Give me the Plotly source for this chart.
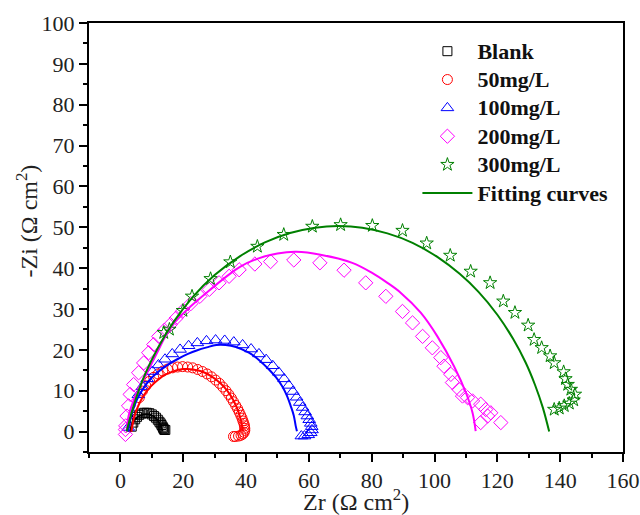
import plotly.graph_objects as go

# ---------------- data ----------------
blank_x = [3.6, 4.1, 4.7, 5.3, 6.0, 6.8, 7.6, 8.4, 9.2, 10.0, 10.7, 11.3, 11.9, 12.4, 12.8, 13.1, 13.4, 13.6, 13.8, 14.0, 14.3]
blank_y = [1.2, 2.2, 3.0, 3.6, 4.1, 4.4, 4.6, 4.6, 4.5, 4.2, 3.8, 3.4, 2.9, 2.4, 2.0, 1.6, 1.2, 0.9, 0.6, 0.4, 0.4]

c50_x = [6.0, 7.0, 8.1, 9.3, 10.6, 12.0, 13.5, 15.0, 16.6, 18.2, 19.8, 21.4, 23.0, 24.6, 26.1, 27.6, 29.0,
         30.3, 31.5, 32.6, 33.6, 34.5, 35.3, 36.0, 36.7, 37.3, 37.8, 38.3, 38.7, 39.0, 39.3, 39.5, 39.6, 39.6, 39.4,
         39.0, 38.4, 37.6, 36.6, 36.0]
c50_y = [8.3, 9.9, 11.2, 12.3, 13.3, 14.1, 14.8, 15.3, 15.6, 15.8, 15.9, 15.8, 15.6, 15.2, 14.7, 14.1, 13.4,
         12.6, 11.8, 10.9, 10.0, 9.1, 8.2, 7.3, 6.4, 5.6, 4.8, 4.0, 3.3, 2.6, 2.0, 1.4, 0.8, 0.3, -0.2,
         -0.6, -0.9, -1.1, -1.2, -1.2]

c100_x = [2.5, 5.7, 7.0, 8.5, 10.2, 12.1, 14.2, 16.5, 19.0, 21.7, 24.5, 27.4, 30.3, 33.2, 36.1, 38.9,
          41.6, 44.1, 46.4, 48.5, 50.4, 52.1, 53.6, 54.9, 56.1, 57.1, 58.0, 58.8, 59.5, 60.1, 60.6, 60.9, 61.0,
          60.6, 59.8, 58.6, 57.6]
c100_y = [1.0, 9.0, 11.0, 12.9, 14.7, 16.3, 17.7, 19.0, 20.1, 21.0, 21.7, 22.2, 22.4, 22.3, 21.9, 21.2,
          20.2, 19.0, 17.6, 16.1, 14.5, 12.9, 11.3, 9.8, 8.4, 7.1, 5.9, 4.8, 3.8, 2.9, 2.0, 1.2, 0.4,
          -0.3, -0.8, -1.1, -1.1]

c200_x = [1.6, 1.6, 1.7, 2.1, 2.6, 3.1, 4.2, 5.8, 7.4, 9.0, 10.6, 12.2, 14.0, 15.9, 17.8, 19.7, 22.4, 25.3, 28.3,
          31.4, 34.6, 37.8, 42.8, 47.8, 55.2, 63.5, 71.2, 78.1, 84.5, 89.8, 93.0, 96.2, 99.3, 102.0, 103.0, 105.2,
          105.7, 107.8, 108.9, 110.5, 112.1, 114.7, 116.3, 117.9, 121.1, 116.9, 114.7]
c200_y = [-0.7, 0.5, 1.4, 3.8, 6.3, 9.1, 11.5, 14.4, 16.8, 19.3, 21.3, 23.3, 24.8, 26.2, 27.8, 29.4, 31.3, 33.1, 34.8,
          36.4, 38.0, 39.6, 41.0, 41.6, 42.0, 41.3, 39.5, 36.4, 33.1, 29.4, 26.6, 23.3, 20.5, 18.1, 16.0, 14.0,
          12.0, 10.3, 8.7, 8.3, 7.5, 6.7, 5.4, 4.6, 2.2, 3.8, 2.2]

c300_x = [13.8, 15.6, 19.9, 22.8, 28.7, 35.0, 43.6, 52.0, 61.1, 70.1, 80.2,
          89.8, 97.5, 105.0, 111.5, 117.7, 121.9, 125.6, 129.8, 131.7, 134.1, 136.8, 138.1, 141.1, 141.7, 142.4,
          143.4, 144.7, 144.3, 142.9, 141.3, 139.7, 138.1]
c300_y = [24.2, 25.0, 29.6, 33.1, 37.4, 41.5, 45.3, 48.2, 50.2, 50.6, 50.4,
          49.2, 46.1, 43.1, 39.2, 36.4, 31.9, 29.1, 26.0, 22.5, 20.5, 18.5, 16.8, 14.6, 12.9, 11.5,
          10.3, 9.1, 7.7, 6.9, 6.3, 5.7, 5.4]

# fitting curves
fit_blank_x = [3.2, 3.6, 4.3, 5.2, 6.2, 7.2, 8.2, 9.2, 10.2, 11.1, 11.9, 12.6, 13.1, 13.4]
fit_blank_y = [0.0, 1.5, 2.6, 3.4, 3.9, 4.2, 4.25, 4.2, 3.9, 3.4, 2.7, 1.8, 0.9, 0.0]

fit50_x = [3.5, 4.0, 5.0, 6.5, 8.0, 10.0, 12.0, 14.0, 17.0, 20.0, 21.3, 23.0, 26.0, 29.0, 32.0, 34.0, 36.0, 37.5, 38.5, 39.0]
fit50_y = [0.0, 2.3, 5.0, 7.6, 9.5, 11.3, 12.7, 13.8, 14.8, 15.3, 15.3, 15.2, 14.7, 13.5, 11.7, 10.0, 7.6, 5.0, 2.3, 0.0]

fit100_x = [2.5, 3.0, 4.0, 5.3, 7.4, 9.5, 11.7, 14.8, 18.1, 21.5, 24.5, 27.5, 30.5, 33.5, 36.8, 40.9, 44.0, 47.3,
            49.5, 51.5, 53.0, 54.2, 55.2, 55.8, 56.2]
fit100_y = [0.0, 2.5, 5.3, 7.9, 10.7, 12.8, 14.4, 16.2, 17.7, 19.0, 19.9, 20.6, 21.2, 21.2, 20.7, 19.3, 17.6, 15.2,
            13.3, 11.1, 8.8, 6.3, 3.9, 1.4, 0.1]

fit200_x = [2.0, 2.6, 3.8, 5.3, 8.5, 12.2, 14.3, 17.5, 21.3, 28.7, 33.5, 38.2, 44.0, 50.0, 56.0, 63.7, 73.8, 80.0,
            85.0, 89.2, 95.6, 100.9, 106.2, 110.0, 112.1, 113.1]
fit200_y = [0.0, 3.8, 6.8, 9.5, 14.4, 20.1, 23.3, 26.9, 29.9, 34.8, 37.8, 40.4, 42.4, 43.6, 44.0, 43.3, 41.3, 38.9,
            36.4, 34.0, 29.1, 23.3, 16.0, 9.5, 4.6, 0.1]

fit300_x = [2.0, 3.0, 5.0, 8.0, 12.0, 17.0, 23.0, 30.0, 38.0, 46.0, 54.0, 62.0, 69.3, 77.0, 85.0, 93.0, 101.0,
            108.0, 114.0, 120.0, 125.0, 129.0, 132.0, 134.5, 136.5]
fit300_y = [0.0, 3.1, 8.2, 14.3, 20.6, 26.9, 32.9, 38.3, 42.9, 46.3, 48.6, 49.9, 50.3, 49.9, 48.5, 46.2, 42.7,
            38.6, 34.2, 28.6, 22.7, 16.9, 11.4, 5.8, 0.0]

series_names = ["Blank", "50mg/L", "100mg/L", "200mg/L", "300mg/L"]
fit_name = "Fitting curves"
series_colors = ["#000000", "#FF0000", "#0000FF", "#FF00FF", "#008000"]
series_symbols = ["square-open", "circle-open", "triangle-up-open", "diamond-open", "star-open"]
series_sizes = [9, 10, 11, 11, 10]

x_ticks = [0, 20, 40, 60, 80, 100, 120, 140, 160]
y_ticks = [0, 10, 20, 30, 40, 50, 60, 70, 80, 90, 100]
x_title = "Zr (Ω cm<sup>2</sup>)"
y_title = "-Zi (Ω cm<sup>2</sup>)"

# ---------------- figure ----------------
data_x = [blank_x, c50_x, c100_x, c200_x, c300_x]
data_y = [blank_y, c50_y, c100_y, c200_y, c300_y]
fits_x = [fit_blank_x, fit50_x, fit100_x, fit200_x, fit300_x]
fits_y = [fit_blank_y, fit50_y, fit100_y, fit200_y, fit300_y]


def legend_label(text):
    return '<span style="font-size:22px">' + text + "</span>"


fig = go.Figure()
for name, col, sym, sz, xs, ys in zip(series_names, series_colors, series_symbols, series_sizes, data_x, data_y):
    fig.add_trace(go.Scatter(
        x=xs, y=ys, mode="markers", name=legend_label(name),
        marker=dict(symbol=sym, size=sz, color=col, line=dict(width=1, color=col)),
    ))

for i, (col, xs, ys) in enumerate(zip(series_colors, fits_x, fits_y)):
    fig.add_trace(go.Scatter(
        x=xs, y=ys, mode="lines", line=dict(color=col, width=2, shape="spline"),
        name=legend_label(fit_name), showlegend=(i == 4),
    ))

font_family = "Liberation Serif, Times New Roman, serif"
axis_common = dict(
    showline=True, linecolor="black", linewidth=2, mirror=True,
    ticks="outside", ticklen=8, tickwidth=2, tickcolor="black",
    showgrid=False, zeroline=False, automargin=False,
    tickfont=dict(family=font_family, size=22, color="#222222"),
)

fig.update_xaxes(
    range=[-10, 160], tickvals=x_ticks,
    minor=dict(dtick=10, ticks="outside", ticklen=4, tickwidth=2, tickcolor="black"),
    **axis_common,
)
fig.update_yaxes(
    range=[-5, 100], tickvals=y_ticks,
    minor=dict(dtick=5, ticks="outside", ticklen=4, tickwidth=2, tickcolor="black"),
    **axis_common,
)

# axis titles as annotations so they can sit exactly where the reference has them
fig.add_annotation(
    text=y_title, xref="paper", yref="paper", x=0, y=0.5, xshift=-63, yshift=16,
    xanchor="center", yanchor="middle", textangle=-90, showarrow=False,
    font=dict(family=font_family, size=24, color="#222222"),
)
fig.add_annotation(
    text=x_title, xref="paper", yref="paper", x=0.5, y=0, yshift=-31,
    xanchor="center", yanchor="top", showarrow=False,
    font=dict(family=font_family, size=24, color="#222222"),
)

fig.update_layout(
    width=640, height=515,
    margin=dict(l=89, r=17, t=23, b=63),
    paper_bgcolor="white", plot_bgcolor="white",
    showlegend=True,
    legend=dict(
        x=0.615, y=0.979, xanchor="left", yanchor="top",
        bgcolor="rgba(0,0,0,0)", borderwidth=0,
        font=dict(family=font_family, size=19.5, color="#111111", weight="bold"),
        itemwidth=50, tracegroupgap=0,
    ),
)

# remove the browser's default 8px page margin so the 640x515 figure fills the window exactly
fig.write_html(
    "out.html",
    config={"displayModeBar": False},
    post_script="document.body.style.margin='0px';",
)
